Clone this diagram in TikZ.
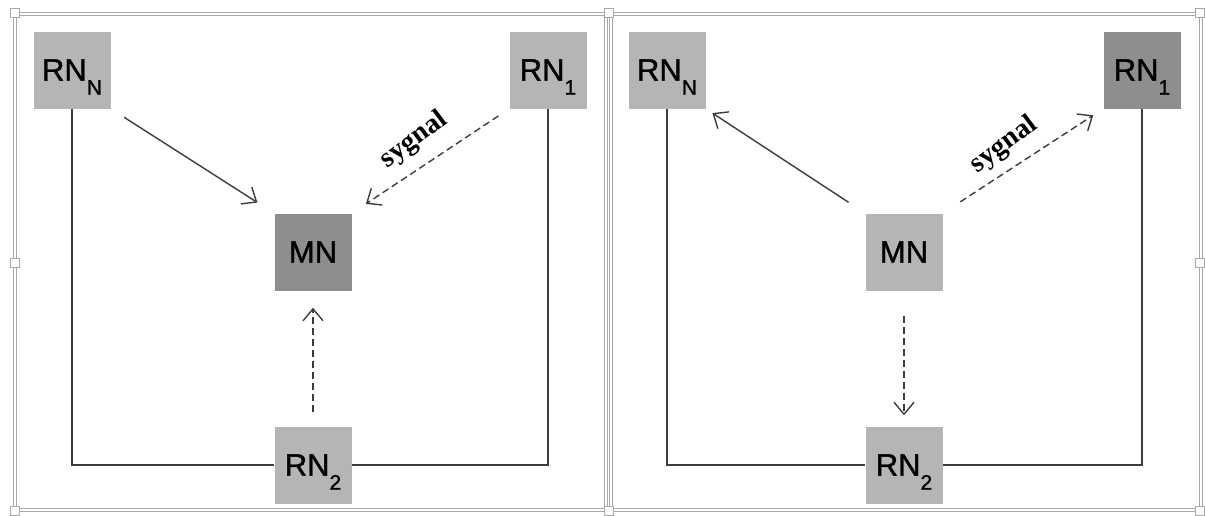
\documentclass[tikz,border=0pt]{standalone}
\usepackage{fontspec}
\usetikzlibrary{arrows.meta}
\newfontfamily\arialfont[FakeBold=1.2,AutoFakeBold=1.2]{Liberation Sans}
\newfontfamily\serffont{Liberation Serif}
\definecolor{boxlight}{HTML}{B5B5B5}
\definecolor{boxdark}{HTML}{8E8E8E}
\definecolor{linecol}{HTML}{3C3C3C}
\definecolor{framecol}{HTML}{A8A8A8}
\newcommand{\rnlabel}[1]{RN\smash{\raisebox{-14pt}{\fontsize{21}{21}\selectfont #1}}}
\begin{document}
\begin{tikzpicture}[x=1pt,y=-1pt,
  nodebox/.style={minimum width=77pt,minimum height=77pt,inner sep=0pt,
    font=\arialfont\fontsize{31}{31}\selectfont\bfseries},
  lightbox/.style={nodebox,fill=boxlight},
  darkbox/.style={nodebox,fill=boxdark},
  conn/.style={draw=linecol,line width=1.5pt},
  sigarrow/.style={draw=linecol,line width=1.4pt,-{Straight Barb[length=12pt,width=20pt,line width=1.4pt]}},
  dasharrow/.style={sigarrow,dash pattern=on 7pt off 4pt},
  framebox/.style={draw=framecol,double=white,line width=0.9pt,double distance=1.8pt},
  handle/.style={draw=framecol,fill=white,line width=0.8pt,minimum size=9pt,inner sep=0pt},
  siglabel/.style={font=\serffont\bfseries\fontsize{28}{28}\selectfont,rotate=37}
]
\useasboundingbox (0,0) rectangle (1205,515);
% frames
\draw[framebox] (15,14) rectangle (606,510);
\draw[framebox] (611,14) rectangle (1201,510);
\foreach \p/\n in {{15,13}/h1,{609,13}/h2,{1200,13}/h3,{15,263}/h4,{1200,263}/h5,{15,511}/h6,{609,511}/h7,{1200,511}/h8}
  \node[handle] (\n) at (\p) {};
% left panel
\node[lightbox] (LN) at (72,70) {\rnlabel{N}};
\node[lightbox] (L1) at (548,70) {\rnlabel{1}};
\node[darkbox] (LM) at (313,252) {MN};
\node[lightbox] (L2) at (313,465) {\rnlabel{2}};
\draw[conn] (LN.south) |- (L2.west);
\draw[conn] (L2.east) -| (L1.south);
\draw[sigarrow,shorten <=16pt,shorten >=20pt] (LN.south east) -- (LM.north west);
\draw[dasharrow,shorten <=13pt,shorten >=17pt] (L1.south west) -- (LM.north east);
\draw[dasharrow,shorten <=14pt,shorten >=17pt] (L2.north) -- (LM.south);
\node[siglabel] (LS) at (414,140) {sygnal};
% right panel
\node[lightbox] (RN) at (667,70) {\rnlabel{N}};
\node[darkbox] (R1) at (1142,70) {\rnlabel{1}};
\node[lightbox] (RM) at (904,252) {MN};
\node[lightbox] (R2) at (904,465) {\rnlabel{2}};
\draw[conn] (RN.south) |- (R2.west);
\draw[conn] (R2.east) -| (R1.south);
\draw[sigarrow,shorten <=20pt,shorten >=8pt] (RM.north west) -- (RN.south east);
\draw[dasharrow,shorten <=21pt,shorten >=12pt] (RM.north east) -- (R1.south west);
\draw[dasharrow,shorten <=25pt,shorten >=11pt] (RM.south) -- (R2.north);
\node[siglabel] (RS) at (1004,145) {sygnal};
\end{tikzpicture}
\end{document}
